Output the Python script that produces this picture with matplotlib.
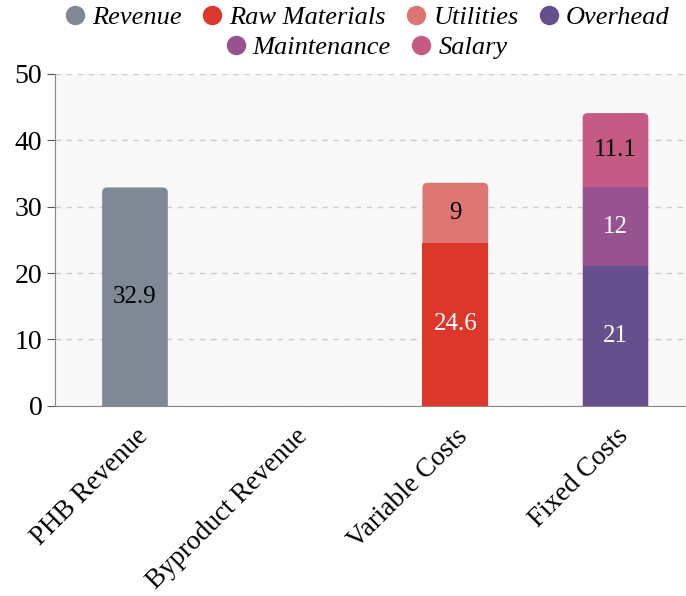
import matplotlib.pyplot as plt
from matplotlib.patches import FancyBboxPatch
from matplotlib.lines import Line2D
import numpy as np

categories = ['PHB Revenue', 'Byproduct Revenue', 'Variable Costs', 'Fixed Costs']
series_names = ['Revenue', 'Raw Materials', 'Utilities', 'Overhead', 'Maintenance', 'Salary']
revenue = [32.9, 0, 0, 0]
raw_materials = [0, 0, 24.6, 0]
utilities = [0, 0, 9, 0]
overhead = [0, 0, 0, 21]
maintenance = [0, 0, 0, 12]
salary = [0, 0, 0, 11.1]
yticks = [0, 10, 20, 30, 40, 50]

series = [revenue, raw_materials, utilities, overhead, maintenance, salary]
colors = ['#7f8996', '#dc372b', '#dc7672', '#654f8c', '#97538f', '#c55a84']
label_colors = ['black', 'white', 'black', 'white', 'white', 'black']

plt.rcParams['font.family'] = 'serif'
plt.rcParams['font.serif'] = ['Liberation Serif', 'DejaVu Serif']

fig = plt.figure(figsize=(6.86, 5.96), dpi=100)
ax = fig.add_axes([0.080, 0.319, 0.92, 0.557])
ax.set_facecolor('#f8f8f8')

x = np.arange(len(categories))
width = 0.41
bottoms = np.zeros(len(categories))
totals = np.sum(series, axis=0)

ax.set_xlim(-0.5, 3.44)
ax.set_ylim(0, 50)
bbox = ax.get_window_extent()
px_x = bbox.width / 3.94
px_y = bbox.height / 50
r = 5 / px_x

z = 3
for vals, c, lc in zip(series, colors, label_colors):
    vals = np.array(vals, dtype=float)
    for i in range(len(categories)):
        v = vals[i]
        if v <= 0:
            continue
        b = bottoms[i]
        if np.isclose(b + v, totals[i]):
            # top segment: rounded box from below the axis up to the total,
            # the lower segments are drawn over it
            p = FancyBboxPatch((x[i] - width / 2, -2), width, b + v + 2,
                               boxstyle='round,pad=0,rounding_size=%f' % r,
                               mutation_aspect=px_x / px_y, fc=c, ec='none', zorder=2)
            ax.add_patch(p)
        else:
            ax.bar(x[i], v, width, bottom=b, color=c, zorder=z)
        ax.text(x[i], b + v / 2, '%g' % v, ha='center', va='center', color=lc, fontsize=18, zorder=6)
    bottoms += vals
    z += 0.1

ax.set_yticks(yticks)
ax.set_xticks(x)
ax.set_xticklabels(categories, rotation=45, ha='right', rotation_mode='anchor', fontsize=19.5)
ax.tick_params(axis='y', labelsize=20, color='#555555', length=6, pad=3)
ax.tick_params(axis='x', length=0, pad=13)
ax.grid(axis='y', linestyle=(0, (4, 4)), color='#cccccc', linewidth=1)
ax.set_axisbelow(True)
for s in ['top', 'right']:
    ax.spines[s].set_visible(False)
for s in ['left', 'bottom']:
    ax.spines[s].set_color('#888888')

handles = [Line2D([0], [0], marker='o', color='none', markerfacecolor=c, markeredgecolor='none',
                  markersize=14) for c in colors]
leg_kw = dict(frameon=False, prop={'style': 'italic', 'size': 19}, handletextpad=0.1,
              columnspacing=0.6, handlelength=1.1)
fig.legend(handles[:4], series_names[:4], loc='center', bbox_to_anchor=(0.532, 0.971), ncol=4, **leg_kw)
fig.legend(handles[4:], series_names[4:], loc='center', bbox_to_anchor=(0.531, 0.921), ncol=2, **leg_kw)

fig.savefig('out.png', dpi=100)
